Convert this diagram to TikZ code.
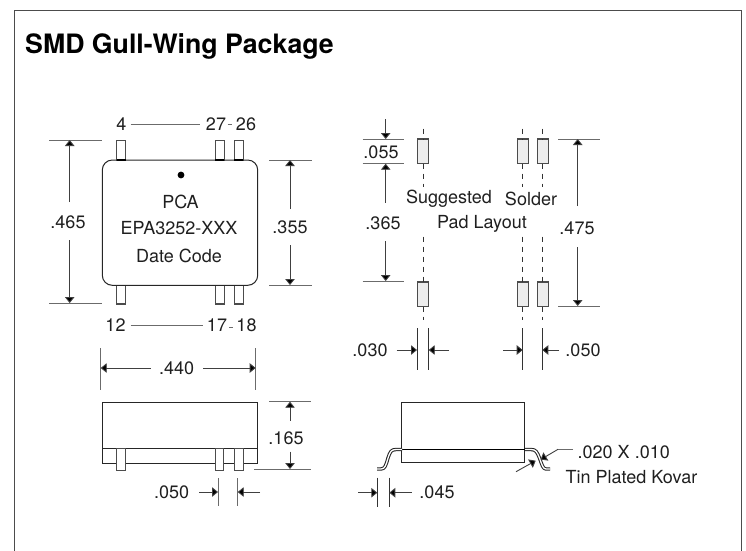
\documentclass[tikz,border=0pt]{standalone}
\usepackage{fontspec}
\setmainfont{TeX Gyre Heros}
\usetikzlibrary{arrows.meta}
\definecolor{dimg}{gray}{0.42}
\tikzset{
  x=1pt,y=-1pt,
  lbl/.style={inner sep=0pt,font=\fontsize{18}{18}\selectfont,text=black!88},
  ext/.style={draw=dimg,line width=1pt},
  dimarrow/.style={draw=black!75,line width=0.9pt,-{Triangle[length=6pt,width=9.5pt,fill=black]}},
  part/.style={draw=black!85,line width=1pt},
  pin/.style={draw=black!70,line width=1.1pt,fill=white},
  padr/.style={draw=black!70,line width=1.1pt,fill=black!7},
  dashv/.style={draw=black!80,line width=0.9pt,dash pattern=on 5pt off 5pt},
  leadout/.style={draw=black!85,line width=3.4pt,line join=round},
  leadin/.style={draw=white,line width=1.3pt,line join=round},
}
\begin{document}
\begin{tikzpicture}
\useasboundingbox (0,0) rectangle (746,550);
\draw[draw=black!70,line width=1.2pt] (14.2,551) -- (14.2,10.2) -- (741.8,10.2) -- (741.8,551);
\node[anchor=west,inner sep=0pt,font=\bfseries\fontsize{26.7}{27}\selectfont] (title) at (25,46) {SMD Gull-Wing Package};

% top view pins
\foreach \a in {116.7,215.2,234.4}{
  \draw[pin] (\a,140.7) rectangle ++(9,19.5);
  \draw[pin] (\a,285.3) rectangle ++(9,18.7);
}
\draw[part,rounded corners=10pt] (102.3,160) rectangle (257.7,285.3);
\foreach \a in {116.7,215.2,234.4}{
  \draw[black,line width=1.6pt] (\a,160) -- ++(9,0);
}
\fill[black] (181,175) circle (3.4);
\node[lbl] (pca) at (180.5,202) {PCA};
\node[lbl] (epa) at (179,228.5) {EPA3252-XXX};
\node[lbl] (date) at (179,256) {Date Code};

% pin numbers
\node[lbl] (p4) at (121.5,124) {4};
\node[lbl] (p27) at (216,124) {27};
\node[lbl] (p26) at (246,124) {26};
\node[lbl] (p12) at (115.5,325) {12};
\node[lbl] (p17) at (217,325) {17};
\node[lbl] (p18) at (246.5,325) {18};
\draw[ext] ([xshift=4pt]p4.east) -- ([xshift=-6pt]p27.west);
\draw[ext] ([xshift=5pt]p12.east) -- ([xshift=-4pt]p17.west);
\draw[ext] ([xshift=1.5pt]p27.east) -- ([xshift=-3.5pt]p26.west);
\draw[ext] ([xshift=2pt,yshift=-2pt]p17.east) -- ([xshift=-3.5pt,yshift=-2pt]p18.west);

% .465
\draw[ext] (49,140) -- (102,140);
\draw[ext] (49,303) -- (102,303);
\node[lbl] (d465) at (68,222) {.465};
\draw[dimarrow] (69.7,202) -- (69.7,140);
\draw[dimarrow] (69.7,240) -- (69.7,303);

% .355
\draw[ext] (269,160) -- (312,160);
\draw[ext] (269,285) -- (312,285);
\node[lbl] (d355) at (290,227) {.355};
\draw[dimarrow] (290,209) -- (290,160);
\draw[dimarrow] (290,245) -- (290,285);

% .440
\draw[ext] (100.7,348) -- (100.7,390);
\draw[ext] (255.7,348) -- (255.7,390);
\node[lbl] (d440) at (176.7,368) {.440};
\draw[dimarrow] (150.7,368) -- (100.7,368);
\draw[dimarrow] (203,368) -- (255.7,368);

% side view
\draw[part,fill=white] (102.3,402.3) rectangle (257.3,463.3);
\draw[part] (102.3,448.7) -- (257.3,448.7);
\foreach \a in {116.7,215.3,234.7}{
  \draw[pin] (\a,448.7) rectangle ++(8.6,22);
}
% .165
\draw[ext] (269,401.7) -- (311,401.7);
\draw[ext] (254,469) -- (311,469);
\node[lbl] (d165) at (286,438.7) {.165};
\draw[dimarrow] (290,420.7) -- (290,401.7);
\draw[dimarrow] (290,451.7) -- (290,469);
% .050 lower
\draw[ext] (218,478) -- (218,505.7);
\draw[ext] (237.7,478) -- (237.7,505.7);
\node[lbl] (d050a) at (171.7,492) {.050};
\draw[dimarrow] (199,492) -- (218,492);
\draw[dimarrow] (260,492) -- (237.7,492);

% pads
\foreach \a in {417.7,517.7,537.4}{
  \draw[padr] (\a,139) rectangle ++(10.8,24.7);
  \draw[padr] (\a,282) rectangle ++(10.8,24.7);
}
\foreach \a in {423.3,522.7,542.3}{
  \draw[dashv] (\a,128.7) -- (\a,139);
  \draw[dashv] (\a,163.7) -- (\a,187);
  \draw[dashv] (\a,236.7) -- (\a,282);
  \draw[dashv] (\a,306.7) -- (\a,320);
}
\node[lbl] (sug) at (449,199) {Suggested};
\node[lbl] (sol) at (531,199) {Solder};
\node[lbl] (pad) at (482,224) {Pad Layout};

% .055 / .365
\draw[ext] (362.7,139) -- (404,139);
\draw[ext] (362.7,163.7) -- (404,163.7);
\draw[ext] (362.7,281) -- (404,281);
\node[lbl] (d055) at (381,152.7) {.055};
\node[lbl] (d365) at (383,223) {.365};
\draw[dimarrow] (385.7,119) -- (385.7,139);
\draw[dimarrow] (385.7,202.7) -- (385.7,163.7);
\draw[dimarrow] (385.7,241) -- (385.7,281);

% .475
\draw[ext] (558,139) -- (600,139);
\draw[ext] (558,306) -- (600,306);
\node[lbl] (d475) at (577,228) {.475};
\draw[dimarrow] (577.7,206) -- (577.7,139);
\draw[dimarrow] (577.7,247) -- (577.7,306);

% .030 .050 top
\foreach \a in {417,428.7,522.7,542.3}{
  \draw[ext,draw=black!80] (\a,328) -- (\a,370);
}
\node[lbl] (d030) at (370,350) {.030};
\node[lbl] (d050b) at (583,350) {.050};
\draw[dimarrow] (396.7,350) -- (417,350);
\draw[dimarrow] (449,350) -- (428.7,350);
\draw[dimarrow] (503,350) -- (522.7,350);
\draw[dimarrow] (559,350) -- (542.3,350);

% gull wing
\draw[part,fill=white] (401.7,402.3) rectangle (524.7,462.3);
\draw[part,line width=1.2pt,draw=black] (401.7,449.3) -- (524.7,449.3);
\def\leadL{(402,449.5) -- (396,449.5) .. controls (391,449.5) and (390,452) .. (388,458) .. controls (386,465) and (385,469) .. (381,469) -- (377,469)}
\def\leadR{(525,449.5) -- (531,449.5) .. controls (536,449.5) and (537,452) .. (539.5,458) .. controls (542,465) and (543,469) .. (546,469) -- (550,469)}
\draw[leadout] \leadL;
\draw[leadin] \leadL;
\draw[leadout] \leadR;
\draw[leadin] \leadR;
\draw[ext] (573,449.3) -- (558,449.3);
\draw[dimarrow] (558,449.3) -- (540.7,459.5);
\draw[dimarrow] (516,471.7) -- (535.7,460.7);
\node[lbl,anchor=west] (tin1) at (577.5,452) {.020 X .010};
\node[lbl,anchor=west] (tin2) at (565.5,477) {Tin Plated Kovar};
% .045
\draw[ext,draw=black!80] (377.3,477.7) -- (377.3,506.7);
\draw[ext,draw=black!80] (389.3,477.7) -- (389.3,506.7);
\node[lbl] (d045) at (437,492.5) {.045};
\draw[dimarrow] (358,492.7) -- (377.3,492.7);
\draw[dimarrow] (411.7,492.7) -- (389.3,492.7);
\end{tikzpicture}
\end{document}
